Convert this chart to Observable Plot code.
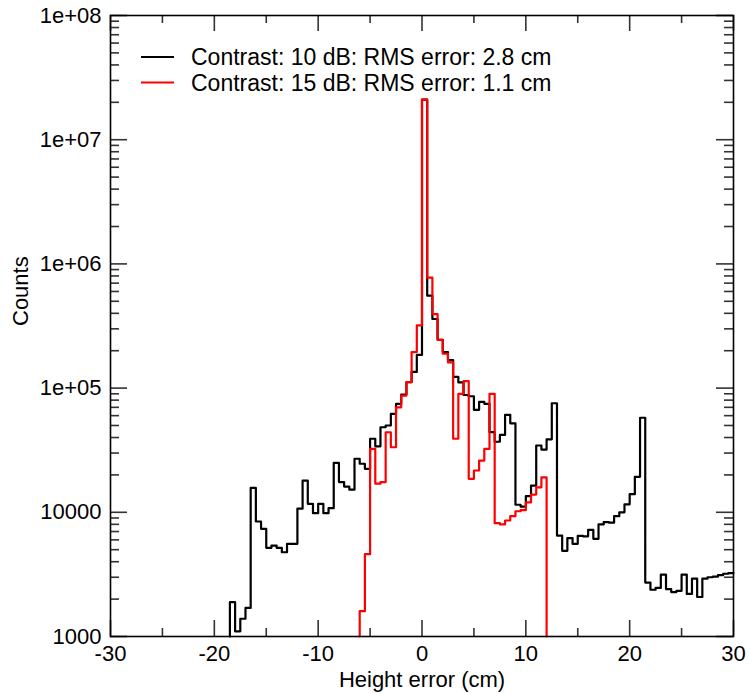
<!DOCTYPE html>
<html>
<head>
<meta charset="utf-8">
<script src="https://cdn.jsdelivr.net/npm/d3@7"></script>
<script src="https://cdn.jsdelivr.net/npm/@observablehq/plot@0.6"></script>
<style>
  body { margin: 0; background: #fff; }
  #chart svg { display: block; }
</style>
</head>
<body>
<div id="chart"></div>
<script>
// ---- Data: histogram bins (left edge, cm) and counts ----
const blackBinStart = [
  -18.5,-18,-17.5,-17,-16.5,-16,-15.5,-15,-14.5,-14,
  -13.5,-13,-12.5,-12,-11.5,-11,-10.5,-10,-9.5,-9,
  -8.5,-8,-7.5,-7,-6.5,-6,-5.5,-5,-4.5,-4,
  -3.5,-3,-2.5,-2,-1.5,-1,-0.5,0,0.5,1,
  1.5,2,2.5,3,3.5,4,4.5,5,5.5,6,
  6.5,7,7.5,8,8.5,9,9.5,10,10.5,11,
  11.5,12,12.5,13,13.5,14,14.5,15,15.5,16,
  16.5,17,17.5,18,18.5,19,19.5,20,20.5,21,
  21.5,22,22.5,23,23.5,24,24.5,25,25.5,26,
  26.5,27,27.5,28,28.5,29,29.5
];
const blackCounts = [
  1890,1100,1390,1700,15700,8430,7360,5180,5400,5180,
  4770,5570,5570,10700,18000,11700,9840,11700,9840,10800,
  25000,17500,16100,15200,27000,24600,22400,39100,34000,48400,
  50000,62000,74700,88700,111700,135000,185000,21000000,555000,360000,
  245000,195000,168000,123000,111000,88000,86000,66800,77500,74700,
  44200,37000,42000,60900,52000,11500,11100,13500,16400,34500,
  32000,38700,75500,6500,4900,6200,5570,6450,6400,7230,
  6120,7980,8320,8250,9300,10000,11600,14000,19300,57700,
  2720,2380,2460,3150,2410,2280,2330,3150,2200,2920,
  2080,2920,3000,3030,3120,3200,3240
];
const blackLastEdge = 30;

const redBinStart = [
  -6,-5.5,-5,-4.5,-4,-3.5,-3,-2.5,-2,-1.5,
  -1,-0.5,0,0.5,1,1.5,2,2.5,3,3.5,
  4,4.5,5,5.5,6,6.5,7,7.5,8,8.5,
  9,9.5,10,10.5,11,11.5
];
const redCounts = [
  1600,4600,32400,17000,17500,44100,33400,70000,87000,111700,
  195000,320000,21000000,776000,394000,245000,189000,161000,39100,90000,
  114000,18600,21700,26100,32400,90000,8170,7980,8590,9300,
  10200,10400,12000,13900,15900,19100
];
const redLastEdge = 12;

const xTicksMajor = [-30,-20,-10,0,10,20,30];
const xTickLabels = ["-30","-20","-10","0","10","20","30"];
const xTicksMinor = [-25,-15,-5,5,15,25];
const yTicksMajor = [1e3,1e4,1e5,1e6,1e7,1e8];
const yTickLabels = ["1000","10000","1e+05","1e+06","1e+07","1e+08"];
const yMinorMultipliers = [2,3,4,5,6,7,8,9];

const seriesNames = ["Contrast: 10 dB: RMS error: 2.8 cm", "Contrast: 15 dB: RMS error: 1.1 cm"];
const seriesColors = ["#000000", "#ff0000"];
const xLabel = "Height error (cm)";
const yLabel = "Counts";

// ---- Build staircase point lists from the bins ----
const floorCount = yTicksMajor[0];
function stairs(starts, counts, lastEdge, endAtFloor) {
  const pts = [{x: starts[0], y: floorCount}];
  starts.forEach((s, i) => pts.push({x: s, y: counts[i]}));
  pts.push({x: lastEdge, y: endAtFloor ? floorCount : counts[counts.length - 1]});
  return pts;
}
const blackPts = stairs(blackBinStart, blackCounts, blackLastEdge, false);
const redPts = stairs(redBinStart, redCounts, redLastEdge, true);

const yTicksMinor = [];
yTicksMajor.slice(0, -1).forEach(d => yMinorMultipliers.forEach(m => yTicksMinor.push(d * m)));

const W = 749, H = 694;
const mL = 110, mR = 16, mT = 15, mB = 58;
const pW = W - mL - mR, pH = H - mT - mB;
const xMin = xTicksMajor[0], xMax = xTicksMajor[xTicksMajor.length - 1];
const yMin = yTicksMajor[0], yMax = yTicksMajor[yTicksMajor.length - 1];
const decadePx = pH / Math.log10(yMax / yMin);
const cmPx = pW / (xMax - xMin);
const tickColor = "#333";
const tickW = 1.6;
const font = "'Liberation Sans', Arial, Helvetica, sans-serif";

// inward tick rules, lengths given in pixels and converted to data units
const xTickRules = (vals, len) => [
  Plot.ruleX(vals, {x: d => d, y1: yMin, y2: yMin * Math.pow(10, len / decadePx), stroke: tickColor, strokeWidth: tickW}),
  Plot.ruleX(vals, {x: d => d, y1: yMax / Math.pow(10, len / decadePx), y2: yMax, stroke: tickColor, strokeWidth: tickW})
];
const yTickRules = (vals, len) => [
  Plot.ruleY(vals, {y: d => d, x1: xMin, x2: xMin + len / cmPx, stroke: tickColor, strokeWidth: tickW}),
  Plot.ruleY(vals, {y: d => d, x1: xMax - len / cmPx, x2: xMax, stroke: tickColor, strokeWidth: tickW})
];

const chart = Plot.plot({
  width: W, height: H,
  marginLeft: mL, marginRight: mR, marginTop: mT, marginBottom: mB,
  style: {fontFamily: font, background: "#fff", color: "#000"},
  x: {domain: [xMin, xMax]},
  y: {type: "log", domain: [yMin, yMax]},
  marks: [
    ...xTickRules(xTicksMajor, 16),
    ...xTickRules(xTicksMinor, 8),
    ...yTickRules(yTicksMajor, 17),
    ...yTickRules(yTicksMinor, 9),
    // tick labels
    Plot.axisX(xTicksMajor, {anchor: "bottom", tickSize: 0, tickPadding: 9, fontSize: 22, label: null,
      tickFormat: d => xTickLabels[xTicksMajor.indexOf(d)], fill: "#000"}),
    Plot.axisY(yTicksMajor, {anchor: "left", tickSize: 0, tickPadding: 9, fontSize: 22, label: null,
      tickFormat: d => yTickLabels[yTicksMajor.indexOf(d)], fill: "#000"}),
    // axis titles
    Plot.text([xLabel], {frameAnchor: "bottom", dy: 50, fontSize: 22, fill: "#000"}),
    Plot.text([yLabel], {frameAnchor: "left", dx: -90, rotate: -90, fontSize: 22, fill: "#000"}),
    // histograms
    Plot.line(blackPts, {x: "x", y: "y", curve: "step-after", stroke: seriesColors[0], strokeWidth: 2.2}),
    Plot.line(redPts, {x: "x", y: "y", curve: "step-after", stroke: seriesColors[1], strokeWidth: 2.2}),
    Plot.frame({stroke: "#000", strokeWidth: 1.6})
  ]
});

// legend inside the frame, top-left
const svg = d3.select(chart);
const lg = svg.append("g").attr("font-family", font).attr("font-size", 23).attr("text-anchor", "start");
seriesNames.forEach((name, i) => {
  const yy = 57 + i * 25.5;
  lg.append("line").attr("x1", 141).attr("x2", 174).attr("y1", yy).attr("y2", yy)
    .attr("stroke", seriesColors[i]).attr("stroke-width", 2.2);
  lg.append("text").attr("x", 191).attr("y", yy).attr("dy", "0.35em").attr("fill", "#000")
    .attr("text-anchor", "start").text(name);
});

document.getElementById("chart").appendChild(chart);
</script>
</body>
</html>
